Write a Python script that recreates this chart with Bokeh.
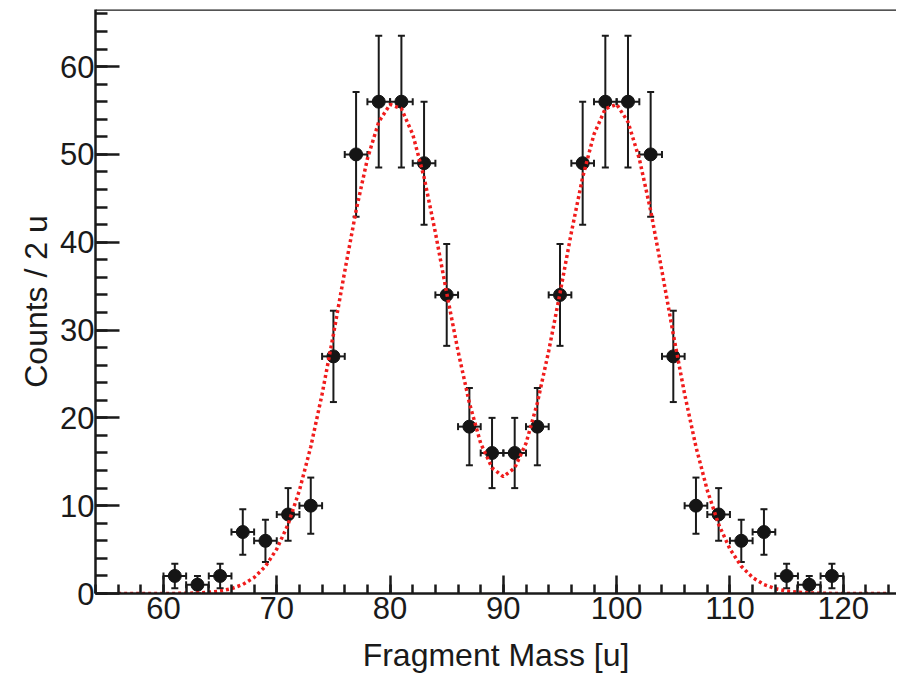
from bokeh.plotting import figure
from bokeh.models import (ColumnDataSource, Whisker, TeeHead, SingleIntervalTicker,
                          Range1d, Span)
from bokeh.embed import file_html
from bokeh.resources import INLINE

# ---- data ----
mass = [61, 63, 65, 67, 69, 71, 73, 75, 77, 79, 81, 83, 85, 87, 89,
        91, 93, 95, 97, 99, 101, 103, 105, 107, 109, 111, 113, 115, 117, 119]
counts = [2, 1, 2, 7, 6, 9, 10, 27, 50, 56, 56, 49, 34, 19, 16,
          16, 19, 34, 49, 56, 56, 50, 27, 10, 9, 6, 7, 2, 1, 2]
count_err = [1.4, 1.0, 1.4, 2.6, 2.4, 3.0, 3.2, 5.2, 7.1, 7.5, 7.5, 7.0, 5.8, 4.4, 4.0,
             4.0, 4.4, 5.8, 7.0, 7.5, 7.5, 7.1, 5.2, 3.2, 3.0, 2.4, 2.6, 1.4, 1.0, 1.4]
bin_half = [1.0] * len(mass)

fit_x = list(range(56, 125))
fit_y = [0.0, 0.0, 0.0, 0.0, 0.005, 0.01, 0.03, 0.06, 0.14, 0.28, 0.55, 1.02, 1.82, 3.10,
         5.06, 7.88, 11.74, 16.7, 22.7, 29.5, 36.7, 43.6, 49.5, 53.7, 55.7, 55.2, 52.3,
         47.4, 41.1, 34.2, 27.6, 21.7, 17.1, 14.3, 13.3, 14.3, 17.1, 21.7, 27.6, 34.2,
         41.1, 47.4, 52.3, 55.2, 55.7, 53.7, 49.5, 43.6, 36.7, 29.5, 22.7, 16.7, 11.74,
         7.88, 5.06, 3.10, 1.82, 1.02, 0.55, 0.28, 0.14, 0.06, 0.03, 0.01, 0.005,
         0.0, 0.0, 0.0, 0.0]

x_label = "Fragment Mass [u]"
y_label = "Counts / 2 u"

# ---- build ----
src = ColumnDataSource(dict(
    x=mass, y=counts,
    ylo=[c - e for c, e in zip(counts, count_err)],
    yhi=[c + e for c, e in zip(counts, count_err)],
    xlo=[m - h for m, h in zip(mass, bin_half)],
    xhi=[m + h for m, h in zip(mass, bin_half)],
))

X0, X1 = 54.0, 124.7
Y0, Y1 = 0.0, 66.5

p = figure(width=896, height=675, output_backend="svg", toolbar_location=None,
           x_range=Range1d(X0, X1), y_range=Range1d(Y0, Y1),
           min_border_left=95, min_border_right=0, min_border_top=9,
           min_border_bottom=76)
p.grid.visible = False
p.outline_line_color = None
p.background_fill_color = "white"
p.border_fill_color = "white"

FONT = "Liberation Sans"
INK = "#1a1a1a"
for ax in (p.xaxis[0], p.yaxis[0]):
    ax.ticker = SingleIntervalTicker(interval=10, num_minor_ticks=5)
    ax.axis_line_width = 2.5
    ax.axis_line_color = INK
    ax.major_tick_line_width = 2.5
    ax.minor_tick_line_width = 2.5
    ax.major_tick_line_color = INK
    ax.minor_tick_line_color = INK
    ax.major_tick_out = 0
    ax.minor_tick_out = 0
    ax.major_label_text_font = FONT
    ax.major_label_text_font_size = "31px"
    ax.major_label_text_color = INK
    ax.axis_label_text_font = FONT
    ax.axis_label_text_font_size = "32px"
    ax.axis_label_text_font_style = "normal"
    ax.axis_label_text_color = INK

p.xaxis.major_tick_in = 18
p.xaxis.minor_tick_in = 9
p.yaxis.major_tick_in = 24
p.yaxis.minor_tick_in = 12
p.xaxis.major_label_standoff = 3
p.yaxis.major_label_standoff = 1
p.xaxis.axis_label = x_label
p.yaxis.axis_label = y_label
p.xaxis.axis_label_standoff = 15
p.yaxis.axis_label_standoff = 3

top = Span(location=Y1, dimension="width", line_color=INK, line_width=2.5)
p.add_layout(top)

vbar = Whisker(source=src, base="x", lower="ylo", upper="yhi", dimension="height",
               line_color=INK, line_width=2,
               lower_head=TeeHead(size=7, line_width=2, line_color=INK),
               upper_head=TeeHead(size=7, line_width=2, line_color=INK))
hbar = Whisker(source=src, base="y", lower="xlo", upper="xhi", dimension="width",
               line_color=INK, line_width=2,
               lower_head=TeeHead(size=7, line_width=2, line_color=INK),
               upper_head=TeeHead(size=7, line_width=2, line_color=INK))
p.add_layout(vbar)
p.add_layout(hbar)

p.scatter("x", "y", source=src, size=13, fill_color="#151515", line_color="#151515")

p.line(fit_x, fit_y, line_color="#f01c1c", line_width=3.5, line_dash="3 3")

open("out.html", "w").write(file_html(p, INLINE))
